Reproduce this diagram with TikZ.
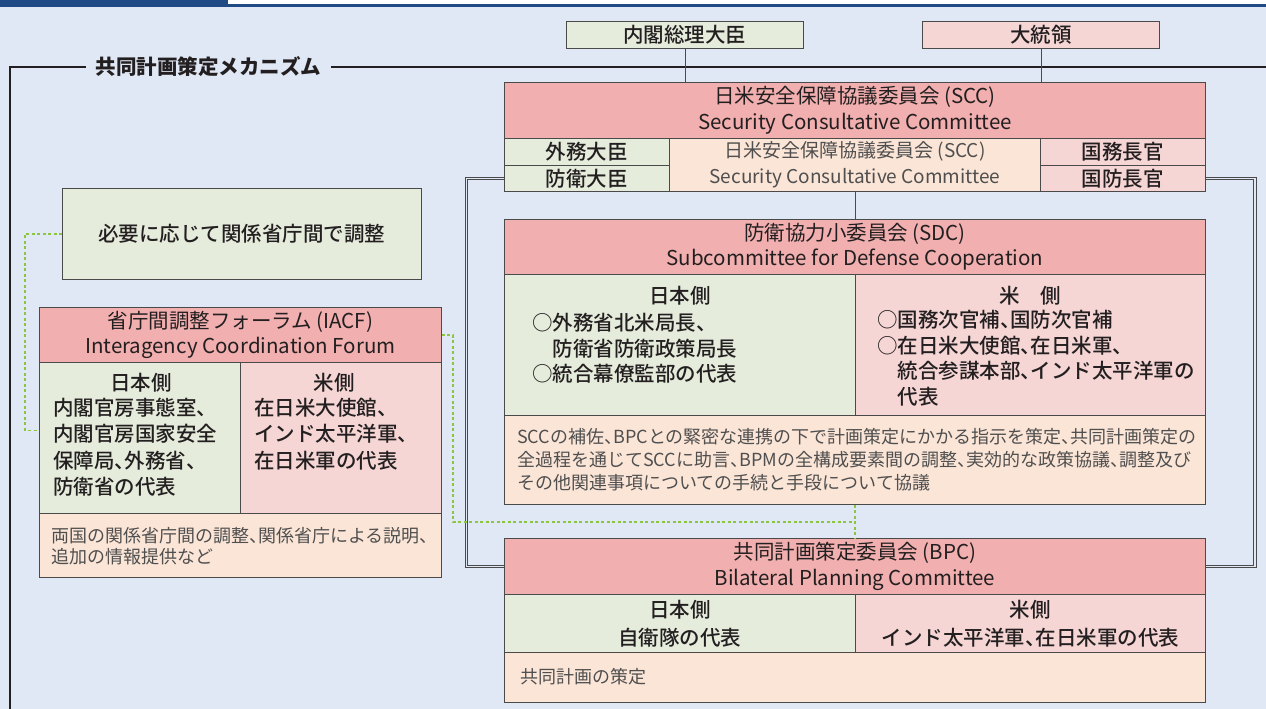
\documentclass[tikz,border=0pt]{standalone}
\usepackage{fontspec}
\setmainfont{Noto Sans CJK JP}
\newfontfamily\mediumjp{Noto Sans CJK JP Medium}
\usepackage{xcolor}
\usetikzlibrary{
    positioning,
    calc
}

\definecolor{bgblue}{HTML}{E0E8F5}
\definecolor{topblue}{HTML}{1F4A85}
\definecolor{hdrpink}{HTML}{F1AFAF}
\definecolor{uspink}{HTML}{F5D6D5}
\definecolor{jpgreen}{HTML}{E5ECDC}
\definecolor{notepeach}{HTML}{FBE5D7}
\definecolor{edgegray}{HTML}{4A4A4A}
\definecolor{txtdark}{HTML}{231F20}
\definecolor{txtgray}{HTML}{4F4F4F}
\definecolor{dotgreen}{HTML}{8CC63F}

\newcommand{\tenhalf}{\makebox[0.5em][l]{、}}

\tikzset{
    cell/.style={draw=edgegray, line width=0.9pt, inner sep=0pt, anchor=north west, align=center},
    big/.style={font=\mediumjp\fontsize{20.5}{25.5}\selectfont, text=txtdark},
    hdr/.style={font=\fontsize{20.5}{25.5}\selectfont, text=txtdark},
    mid/.style={font=\fontsize{19}{26}\selectfont, text=txtgray},
    small/.style={font=\fontsize{18}{23}\selectfont, text=txtgray},
    lines/.style={anchor=north west, inner sep=0pt, align=left},
    dbl/.style={draw=edgegray, double=bgblue, double distance=1.6pt, line width=0.8pt},
    dot/.style={draw=dotgreen, line width=1.3pt, dash pattern=on 3pt off 2.5pt},
    link/.style={draw=edgegray, line width=0.8pt},
    frame/.style={draw=txtdark, line width=2pt}
}

\begin{document}
\begin{tikzpicture}[x=1pt, y=-1pt]
    \useasboundingbox (0,0) rectangle (1266,709);
    \clip (0,0) rectangle (1266,709);
    \fill[bgblue] (0,0) rectangle (1266,709);
    \fill[white] (0,0) rectangle (1266,4);
    \fill[topblue] (0,4) rectangle (1266,7);
    \fill[topblue] (0,0) rectangle (228,7);

    \node[font=\bfseries\fontsize{20.5}{24}\selectfont, text=txtdark, inner xsep=10pt] (ttl) at (208.5,67) {共同計画策定メカニズム};
    \draw[frame] (ttl.west) -- (10,67) -- (10,720);
    \draw[frame] (ttl.east) -- (1280,67);

    \node[cell, big, fill=jpgreen, minimum width=237, minimum height=27] (pm) at (566,21) {内閣総理大臣};
    \node[cell, big, fill=uspink, minimum width=237, minimum height=27] (pres) at (922,21) {大統領};

    \node[cell, hdr, fill=hdrpink, minimum width=701, minimum height=56] (scch) at (504,82) {日米安全保障協議委員会 (SCC)\\Security Consultative Committee};
    \node[cell, big, fill=jpgreen, minimum width=165, minimum height=27] (gaimu) at (504,138) {外務大臣};
    \node[cell, big, fill=jpgreen, minimum width=165, minimum height=26] (boei) at (504,165) {防衛大臣};
    \node[cell, mid, fill=notepeach, minimum width=371, minimum height=53] (sccm) at (669,138) {日米安全保障協議委員会 (SCC)\\Security Consultative Committee};
    \node[cell, big, fill=uspink, minimum width=165, minimum height=27] (kokumu) at (1040,138) {国務長官};
    \node[cell, big, fill=uspink, minimum width=165, minimum height=26] (kokubo) at (1040,165) {国防長官};

    \node[cell, hdr, fill=hdrpink, minimum width=701, minimum height=55] (sdch) at (504,219) {防衛協力小委員会 (SDC)\\Subcommittee for Defense Cooperation};
    \node[cell, fill=jpgreen, minimum width=351, minimum height=141] (sdcj) at (504,274) {};
    \node[cell, fill=uspink, minimum width=350, minimum height=141] (sdcu) at (855,274) {};
    \node[cell, fill=notepeach, minimum width=701, minimum height=89] (sdcn) at (504,415) {};
    \node[big] (sdcjt) at (680,296) {日本側};
    \node[big, lines] (sdcjl) at (532,313) {○外務省北米局長\tenhalf\\\hspace*{1em}防衛省防衛政策局長\\○統合幕僚監部の代表};
    \node[big] (sdcut) at (1030,296) {米　側};
    \node[big, lines] (sdcul) at (877,310) {○国務次官補\tenhalf 国防次官補\\○在日米大使館\tenhalf 在日米軍\tenhalf\\\hspace*{1em}統合参謀本部\tenhalf インド太平洋軍の\\\hspace*{1em}代表};
    \node[small, lines] (sdcnt) at (517,428) {SCCの補佐\tenhalf BPCとの緊密な連携の下で計画策定にかかる指示を策定\tenhalf 共同計画策定の\\全過程を通じてSCCに助言\tenhalf BPMの全構成要素間の調整\tenhalf 実効的な政策協議\tenhalf 調整及び\\その他関連事項についての手続と手段について協議};

    \node[cell, hdr, fill=hdrpink, minimum width=701, minimum height=56] (bpch) at (504,538) {共同計画策定委員会 (BPC)\\Bilateral Planning Committee};
    \node[cell, big, fill=jpgreen, minimum width=351, minimum height=58, font=\mediumjp\fontsize{20.5}{28}\selectfont] (bpcj) at (504,594) {日本側\\自衛隊の代表};
    \node[cell, big, fill=uspink, minimum width=350, minimum height=58, font=\mediumjp\fontsize{20.5}{28}\selectfont] (bpcu) at (855,594) {米側\\インド太平洋軍\tenhalf 在日米軍の代表};
    \node[cell, fill=notepeach, minimum width=701, minimum height=50] (bpcn) at (504,652) {};
    \node[small, anchor=west] (bpcnt) at (517,677) {共同計画の策定};

    \node[cell, big, fill=jpgreen, minimum width=359, minimum height=91] (need) at (62,188) {必要に応じて関係省庁間で調整};

    \node[cell, hdr, fill=hdrpink, minimum width=402, minimum height=55] (iacfh) at (39,307) {省庁間調整フォーラム (IACF)\\Interagency Coordination Forum};
    \node[cell, fill=jpgreen, minimum width=201, minimum height=151] (iacfj) at (39,362) {};
    \node[cell, fill=uspink, minimum width=201, minimum height=151] (iacfu) at (240,362) {};
    \node[cell, fill=notepeach, minimum width=402, minimum height=64] (iacfn) at (39,513) {};
    \node[big] (iacfjt) at (141,383) {日本側};
    \node[big, lines, font=\mediumjp\fontsize{20.5}{26.3}\selectfont] (iacfjl) at (53,398) {内閣官房事態室\tenhalf\\内閣官房国家安全\\保障局\tenhalf 外務省\tenhalf\\防衛省の代表};
    \node[big] (iacfut) at (334,383) {米側};
    \node[big, lines, font=\mediumjp\fontsize{20.5}{26.3}\selectfont] (iacful) at (254,398) {在日米大使館\tenhalf\\インド太平洋軍\tenhalf\\在日米軍の代表};
    \node[small, lines, font=\fontsize{18}{21}\selectfont] (iacfnt) at (51,527) {両国の関係省庁間の調整\tenhalf 関係省庁による説明\tenhalf\\追加の情報提供など};

    \draw[link] (pm.south) -- (pm.south |- scch.north);
    \draw[link] (pres.south) -- (pres.south |- scch.north);
    \draw[link] (sccm.south) -- (sdch.north);

    \coordinate (dbll) at (466.5,370);
    \coordinate (dblr) at (1255,370);
    \draw[dbl] (boei.west) -| (dbll) |- (bpch.west);
    \draw[dbl] (kokubo.east) -| (dblr) |- (bpch.east);

    \coordinate (dotj) at (453,522);
    \coordinate (dotl) at (25,300);
    \draw[dot] (sdcn.south) -- (bpch.north);
    \draw[dot] (iacfh.east) -| (dotj) -- (sdcn.south |- dotj);
    \draw[dot] (need.west) -| (dotl) |- ([yshift=7.5pt]iacfj.west);
\end{tikzpicture}
\end{document}
